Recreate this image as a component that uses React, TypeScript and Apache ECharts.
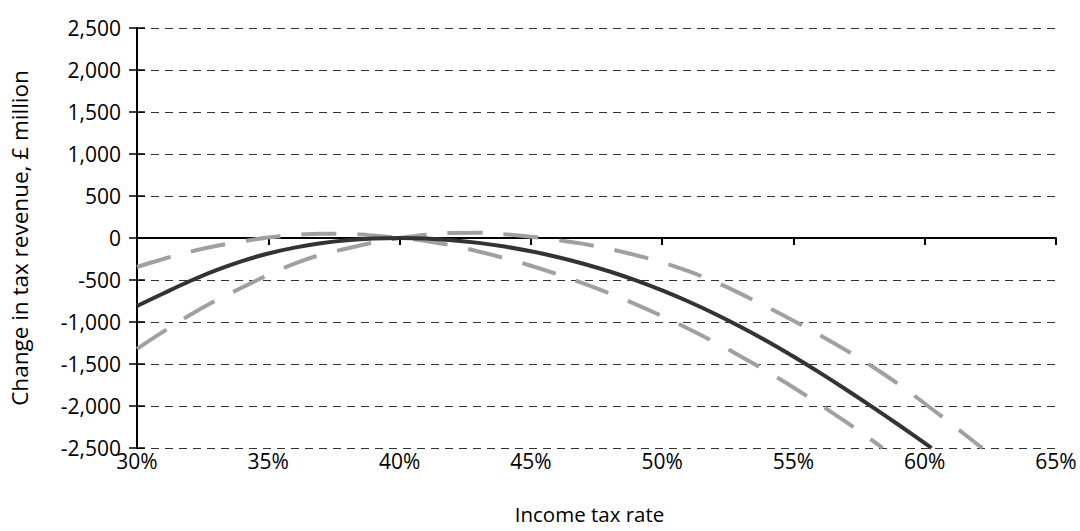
import React, { useEffect, useRef } from "react";
import * as echarts from "echarts";

// Income tax rate (%) against change in tax revenue (£ million)
const centralRates = [30, 31, 32, 33, 34, 35, 36, 37, 38, 39, 40, 41, 42, 43, 44, 45, 46, 47, 48, 49, 50, 51, 52, 53, 54, 55, 56, 57, 58, 59, 60, 60.26];
const centralChange = [-810, -660, -515, -385, -275, -185, -115, -63, -28, -7, 0, -6, -26, -58, -102, -158, -226, -306, -399, -505, -624, -756, -901, -1059, -1229, -1411, -1603, -1803, -2010, -2223, -2441, -2500];

const earlyPeakRates = [30, 31, 32, 33, 34, 35, 36, 37, 38, 39, 40, 41, 42, 43, 44, 45, 46, 47, 48, 49, 50, 51, 52, 53, 54, 55, 56, 57, 58, 58.4];
const earlyPeakChange = [-345, -250, -165, -95, -40, 5, 35, 50, 48, 30, 0, -35, -90, -160, -240, -330, -430, -540, -660, -790, -930, -1080, -1240, -1410, -1590, -1780, -1980, -2190, -2410, -2500];

const latePeakRates = [30, 31, 32, 33, 34, 35, 36, 37, 38, 39, 40, 41, 42, 43, 44, 45, 46, 47, 48, 49, 50, 51, 52, 53, 54, 55, 56, 57, 58, 59, 60, 61, 62, 62.2];
const latePeakChange = [-1320, -1115, -920, -745, -590, -440, -305, -200, -125, -55, 0, 40, 60, 62, 45, 15, -25, -70, -130, -205, -290, -395, -520, -665, -822, -985, -1155, -1335, -1530, -1740, -1970, -2210, -2455, -2500];

const xTitle = "Income tax rate";
const yTitle = "Change in tax revenue, £ million";

const FONT = "'Open Sans', sans-serif";

const pairs = (xs: number[], ys: number[]) => xs.map((x, i) => [x, ys[i]]);

const fmtThousands = (v: number) => {
  const s = Math.abs(v).toString().replace(/\B(?=(\d{3})+(?!\d))/g, ",");
  return v < 0 ? "-" + s : s;
};

export default function App() {
  const ref = useRef<HTMLDivElement>(null);

  useEffect(() => {
    if (!ref.current) return;
    const chart = echarts.init(ref.current, undefined, { renderer: "svg" });
    const labelStyle = { color: "#000", fontSize: 21, fontFamily: FONT };
    const dashedLine = {
      color: "#a0a0a0",
      width: 4,
      type: [35, 21] as number[],
      cap: "butt" as const,
    };
    chart.setOption({
      animation: false,
      backgroundColor: "#fff",
      grid: { left: 137, right: 24, top: 28, bottom: 83, containLabel: false },
      xAxis: [
        {
          type: "value",
          min: 30,
          max: 65,
          interval: 5,
          position: "bottom",
          axisLine: { show: false, onZero: false },
          axisTick: { show: false },
          splitLine: { show: false },
          axisLabel: { ...labelStyle, margin: 2, formatter: (v: number) => v + "%" },
          name: xTitle,
          nameLocation: "middle",
          nameGap: 55,
          nameTextStyle: { ...labelStyle, fontSize: 20.5, padding: [0, 14, 0, 0] },
        },
        {
          type: "value",
          min: 30,
          max: 65,
          interval: 5,
          position: "bottom",
          axisLine: { show: true, onZero: true, lineStyle: { color: "#000", width: 2 } },
          axisTick: { show: true, inside: false, length: 7, lineStyle: { color: "#000", width: 2 } },
          axisLabel: { show: false },
          splitLine: { show: false },
        },
      ],
      yAxis: [
        {
          type: "value",
          min: -2500,
          max: 2500,
          interval: 500,
          axisLine: { show: true, onZero: false, lineStyle: { color: "#000", width: 2 } },
          axisTick: { show: true, inside: false, length: 8, lineStyle: { color: "#000", width: 1.5 } },
          axisLabel: { ...labelStyle, margin: 16, formatter: fmtThousands },
          splitLine: { show: true, lineStyle: { color: "#333", width: 1, type: [8, 6] } },
          name: yTitle,
          nameLocation: "middle",
          nameGap: 106,
          nameRotate: 90,
          nameTextStyle: { ...labelStyle, fontSize: 22.5 },
        },
        {
          type: "value",
          min: -2500,
          max: 2500,
          interval: 500,
          position: "left",
          axisLine: { show: false, onZero: false },
          axisTick: { show: true, inside: true, length: 8, lineStyle: { color: "#000", width: 1.5 } },
          axisLabel: { show: false },
          splitLine: { show: false },
        },
      ],
      series: [
        {
          type: "line",
          data: pairs(earlyPeakRates, earlyPeakChange),
          smooth: 0.4,
          showSymbol: false,
          lineStyle: dashedLine,
          z: 2,
        },
        {
          type: "line",
          data: pairs(latePeakRates, latePeakChange),
          smooth: 0.4,
          showSymbol: false,
          lineStyle: dashedLine,
          z: 2,
        },
        {
          type: "line",
          data: pairs(centralRates, centralChange),
          smooth: 0.4,
          showSymbol: false,
          lineStyle: { color: "#333", width: 4 },
          z: 3,
        },
      ],
    });
    return () => chart.dispose();
  }, []);

  return (
    <div
      ref={ref}
      style={{ position: "absolute", left: 0, top: 0, width: 1080, height: 531, background: "#fff" }}
    />
  );
}
